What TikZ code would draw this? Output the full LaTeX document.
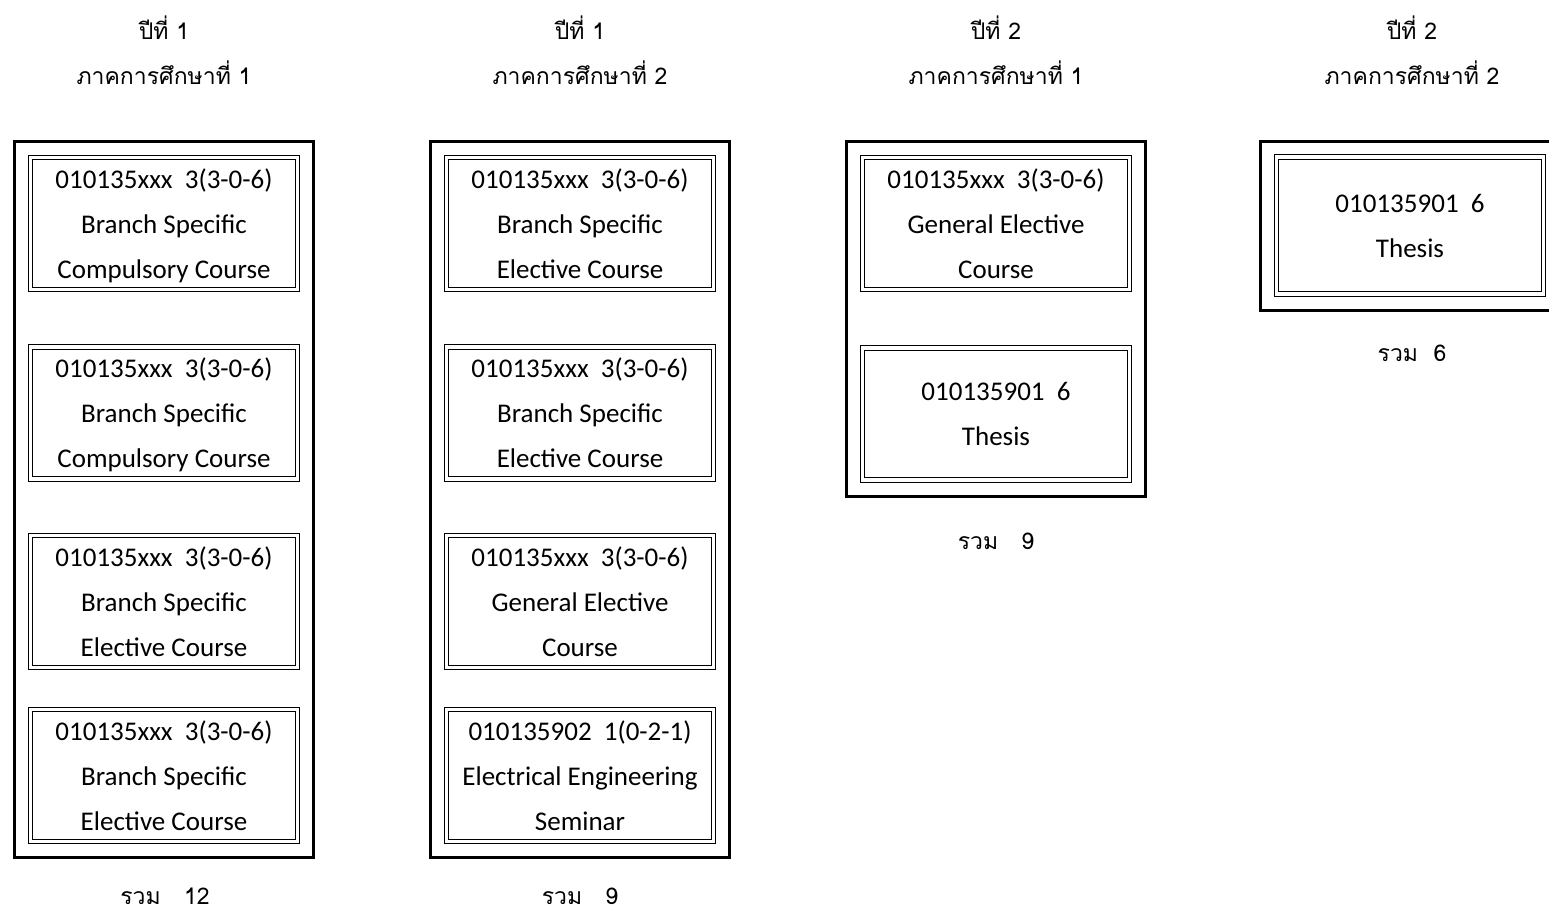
\documentclass[tikz,border=0pt]{standalone}
\usepackage{fontspec}
\setmainfont{Carlito}
\newfontfamily\thaifont[Script=Thai]{Loma}
\usetikzlibrary{fit}

\tikzset{
  course/.style={draw, double, line width=1.1pt, double distance=3.6pt,
    minimum width=267pt, minimum height=132pt, inner sep=0pt, outer sep=0pt,
    text depth=-8pt, align=center, font=\fontsize{27}{45}\selectfont},
  term/.style={draw, line width=3pt, inner sep=16pt, fit=#1},
  head/.style={align=center, font=\thaifont\fontsize{23}{45}\selectfont},
  total/.style={font=\thaifont\fontsize{23}{26}\selectfont}
}

\begin{document}
\begin{tikzpicture}[x=1pt,y=-1pt]
\useasboundingbox (0,0) rectangle (1549,914);

% Headers
\node[head] (h1) at (164,50) {ปีที่ 1\\ภาคการศึกษาที่ 1};
\node[head] (h2) at (580,50) {ปีที่ 1\\ภาคการศึกษาที่ 2};
\node[head] (h3) at (996,50) {ปีที่ 2\\ภาคการศึกษาที่ 1};
\node[head] (h4) at (1412,50) {ปีที่ 2\\ภาคการศึกษาที่ 2};

% Year 1, term 1
\node[course] (a1) at (164,223.5) {010135xxx\ \ 3(3-0-6)\\Branch Specific\\Compulsory Course};
\node[course] (a2) at (164,413) {010135xxx\ \ 3(3-0-6)\\Branch Specific\\Compulsory Course};
\node[course] (a3) at (164,601.5) {010135xxx\ \ 3(3-0-6)\\Branch Specific\\Elective Course};
\node[course] (a4) at (164,775.5) {010135xxx\ \ 3(3-0-6)\\Branch Specific\\Elective Course};
\node[term=(a1)(a4)] (ta) {};

% Year 1, term 2
\node[course] (b1) at (580,223.5) {010135xxx\ \ 3(3-0-6)\\Branch Specific\\Elective Course};
\node[course] (b2) at (580,413) {010135xxx\ \ 3(3-0-6)\\Branch Specific\\Elective Course};
\node[course] (b3) at (580,601.5) {010135xxx\ \ 3(3-0-6)\\General Elective\\Course};
\node[course] (b4) at (580,775.5) {010135902\ \ 1(0-2-1)\\Electrical Engineering\\Seminar};
\node[term=(b1)(b4)] (tb) {};

% Year 2, term 1
\node[course] (c1) at (996,223.5) {010135xxx\ \ 3(3-0-6)\\General Elective\\Course};
\node[course] (c2) at (996,414) {010135901\ \ 6\\Thesis};
\node[term=(c1)(c2)] (tc) {};

% Year 2, term 2
\node[course, minimum height=137pt] (d1) at (1410,225.5) {010135901\ \ 6\\Thesis};
\node[term=(d1)] (td) {};

% Totals
\node[total] (sa) at (165,896) {รวม\ \ \ 12};
\node[total] (sb) at (580,896) {รวม\ \ \ 9};
\node[total] (sc) at (996,541) {รวม\ \ \ 9};
\node[total] (sd) at (1412,353) {รวม\ \ 6};

\end{tikzpicture}
\end{document}
